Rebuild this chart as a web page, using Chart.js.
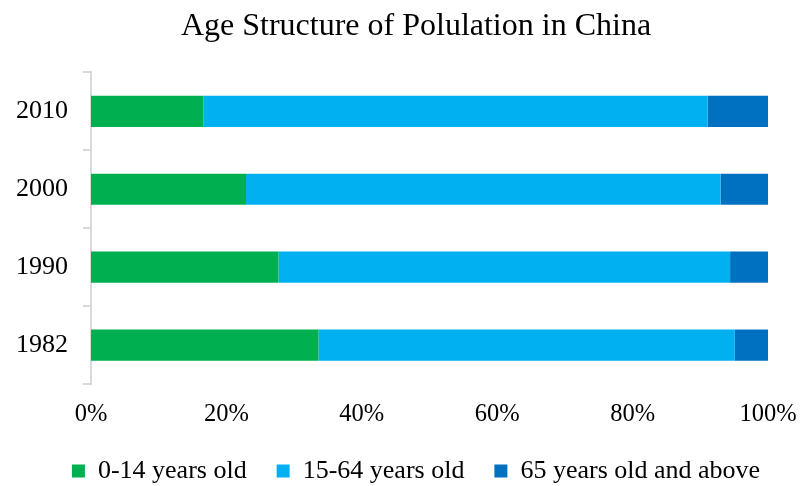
<!DOCTYPE html>
<html>
<head>
<meta charset="utf-8">
<script src="https://cdn.jsdelivr.net/npm/chart.js@4/dist/chart.umd.min.js"></script>
<style>
  html, body { margin: 0; padding: 0; background: #fff; }
  #wrap { width: 800px; height: 486px; }
</style>
</head>
<body>
<div id="wrap"><canvas id="ageChart"></canvas></div>
<script>
const years = ['2010', '2000', '1990', '1982'];
const age0to14 = [16.6, 22.9, 27.7, 33.6];
const age15to64 = [74.5, 70.1, 66.7, 61.5];
const age65plus = [8.9, 7.0, 5.6, 4.9];
const xTicks = [0, 20, 40, 60, 80, 100];

const serif = "'Liberation Serif', 'Times New Roman', serif";

const ageCtx = document.getElementById('ageChart').getContext('2d');
const ageChart = new Chart(ageCtx, {
    type: 'bar',
    data: {
        labels: years,
        datasets: [
            { label: '0-14 years old', data: age0to14, backgroundColor: '#00B050' },
            { label: '15-64 years old', data: age15to64, backgroundColor: '#00B0F0' },
            { label: '65 years old and above', data: age65plus, backgroundColor: '#0070C0' }
        ]
    },
    options: {
        indexAxis: 'y',
        responsive: true,
        maintainAspectRatio: false,
        animation: false,
        barPercentage: 0.4,
        categoryPercentage: 1,
        // title and legend sit a little right of centre in the original
        layout: { padding: { left: 1, right: -31, top: 0, bottom: -8 } },
        plugins: {
            title: {
                display: true,
                text: 'Age Structure of Polulation in China',
                color: '#000',
                font: { family: serif, size: 32, weight: 'normal' },
                padding: { top: 7, bottom: 27 }
            },
            legend: {
                position: 'bottom',
                labels: {
                    color: '#000',
                    font: { family: serif, size: 26 },
                    boxWidth: 13,
                    boxHeight: 13,
                    padding: 30
                }
            },
            tooltip: { enabled: false }
        },
        scales: {
            x: {
                stacked: true,
                min: 0,
                max: 100,
                afterBuildTicks: axis => { axis.ticks = xTicks.map(v => ({ value: v })); },
                afterFit: axis => {
                    axis.height = 44;
                    axis.paddingRight = 32;
                },
                ticks: {
                    color: '#000',
                    font: { family: serif, size: 24.5 },
                    padding: 16,
                    maxRotation: 0,
                    callback: v => v + '%'
                },
                grid: { display: false, drawTicks: false },
                border: { display: false }
            },
            y: {
                stacked: true,
                ticks: {
                    color: '#000',
                    font: { family: serif, size: 26 },
                    padding: 15
                },
                grid: {
                    offset: true,
                    drawOnChartArea: false,
                    tickLength: 8,
                    color: '#d9d9d9',
                    lineWidth: 2
                },
                border: { color: '#d9d9d9', width: 2 }
            }
        }
    }
});
</script>
</body>
</html>
